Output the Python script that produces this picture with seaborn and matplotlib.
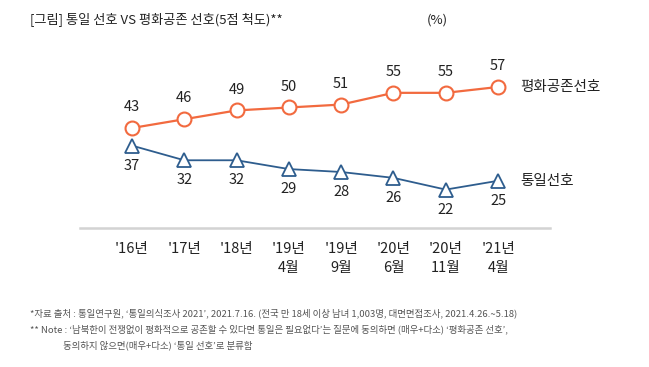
import matplotlib
matplotlib.use("Agg")
import matplotlib.pyplot as plt
import seaborn as sns
import pandas as pd

categories = ["'16년", "'17년", "'18년", "'19년\n4월", "'19년\n9월", "'20년\n6월", "'20년\n11월", "'21년\n4월"]
peace = [43, 46, 49, 50, 51, 55, 55, 57]
unify = [37, 32, 32, 29, 28, 26, 22, 25]
series_names = ["평화공존선호", "통일선호"]

title = "[그림] 통일 선호 VS 평화공존 선호(5점 척도)**"
unit = "(%)"
notes = [
    "*자료 출처 : 통일연구원, ‘통일의식조사 2021’, 2021.7.16. (전국 만 18세 이상 남녀 1,003명, 대면면접조사, 2021.4.26.~5.18)",
    "** Note : ‘남북한이 전쟁없이 평화적으로 공존할 수 있다면 통일은 필요없다’는 질문에 동의하면 (매우+다소) ‘평화공존 선호’,",
    "동의하지 않으면(매우+다소) ‘통일 선호’로 분류함",
]

sns.set_theme(style="white")
plt.rcParams["font.family"] = ["Noto Sans CJK KR", "DejaVu Sans"]

ORANGE = "#F26A3F"
BLUE = "#2E5D8E"
TXT = "#222222"

fig = plt.figure(figsize=(6.49, 3.67), dpi=100)
ax = fig.add_axes([80 / 649, 1 - 228 / 367, 470 / 649, 168 / 367])

df = pd.DataFrame({"x": list(range(len(categories))), "peace": peace, "unify": unify})

sns.lineplot(data=df, x="x", y="peace", ax=ax, color=ORANGE, lw=1.6,
             marker="o", markersize=10, markerfacecolor="white",
             markeredgecolor=ORANGE, markeredgewidth=1.5)
sns.lineplot(data=df, x="x", y="unify", ax=ax, color=BLUE, lw=1.3,
             marker="^", markersize=10, markerfacecolor="white",
             markeredgecolor=BLUE, markeredgewidth=1.3)

for i, v in enumerate(peace):
    ax.annotate(str(v), (i, v), xytext=(0, 15), textcoords="offset points",
                ha="center", va="center", fontsize=10.5, color=TXT)
for i, v in enumerate(unify):
    ax.annotate(str(v), (i, v), xytext=(0, -14.5), textcoords="offset points",
                ha="center", va="center", fontsize=10.5, color=TXT)

n = len(categories)
ax.annotate(series_names[0], (n - 1, peace[-1]), xytext=(16, 0), textcoords="offset points",
            ha="left", va="center", fontsize=10.5, color=TXT, annotation_clip=False)
ax.annotate(series_names[1], (n - 1, unify[-1]), xytext=(16, 0), textcoords="offset points",
            ha="left", va="center", fontsize=10.5, color=TXT, annotation_clip=False)

ax.set_xlim(-0.994, 7.994)
ax.set_ylim(8.9, 66.2)
ax.set_xticks(range(n))
ax.set_xticklabels(categories, fontsize=10.5, color=TXT, linespacing=1.45)
ax.set_yticks([])
ax.set_xlabel("")
ax.set_ylabel("")
ax.tick_params(axis="x", length=0, pad=10)
for s in ["top", "left", "right"]:
    ax.spines[s].set_visible(False)
ax.spines["bottom"].set_color("#D3D3D3")
ax.spines["bottom"].set_linewidth(1.8)

fig.text(30 / 649, 1 - 20 / 367, title, fontsize=9.5, color=TXT, ha="left", va="center")
fig.text(437 / 649, 1 - 20 / 367, unit, fontsize=9.5, color=TXT, ha="center", va="center")

fig.text(30 / 649, 1 - 313 / 367, notes[0], fontsize=6.8, color="#555555", ha="left", va="center")
fig.text(30 / 649, 1 - 329 / 367, notes[1], fontsize=6.8, color="#555555", ha="left", va="center")
fig.text(63 / 649, 1 - 345 / 367, notes[2], fontsize=6.8, color="#555555", ha="left", va="center")

fig.savefig("out.png", dpi=100, facecolor="white")
